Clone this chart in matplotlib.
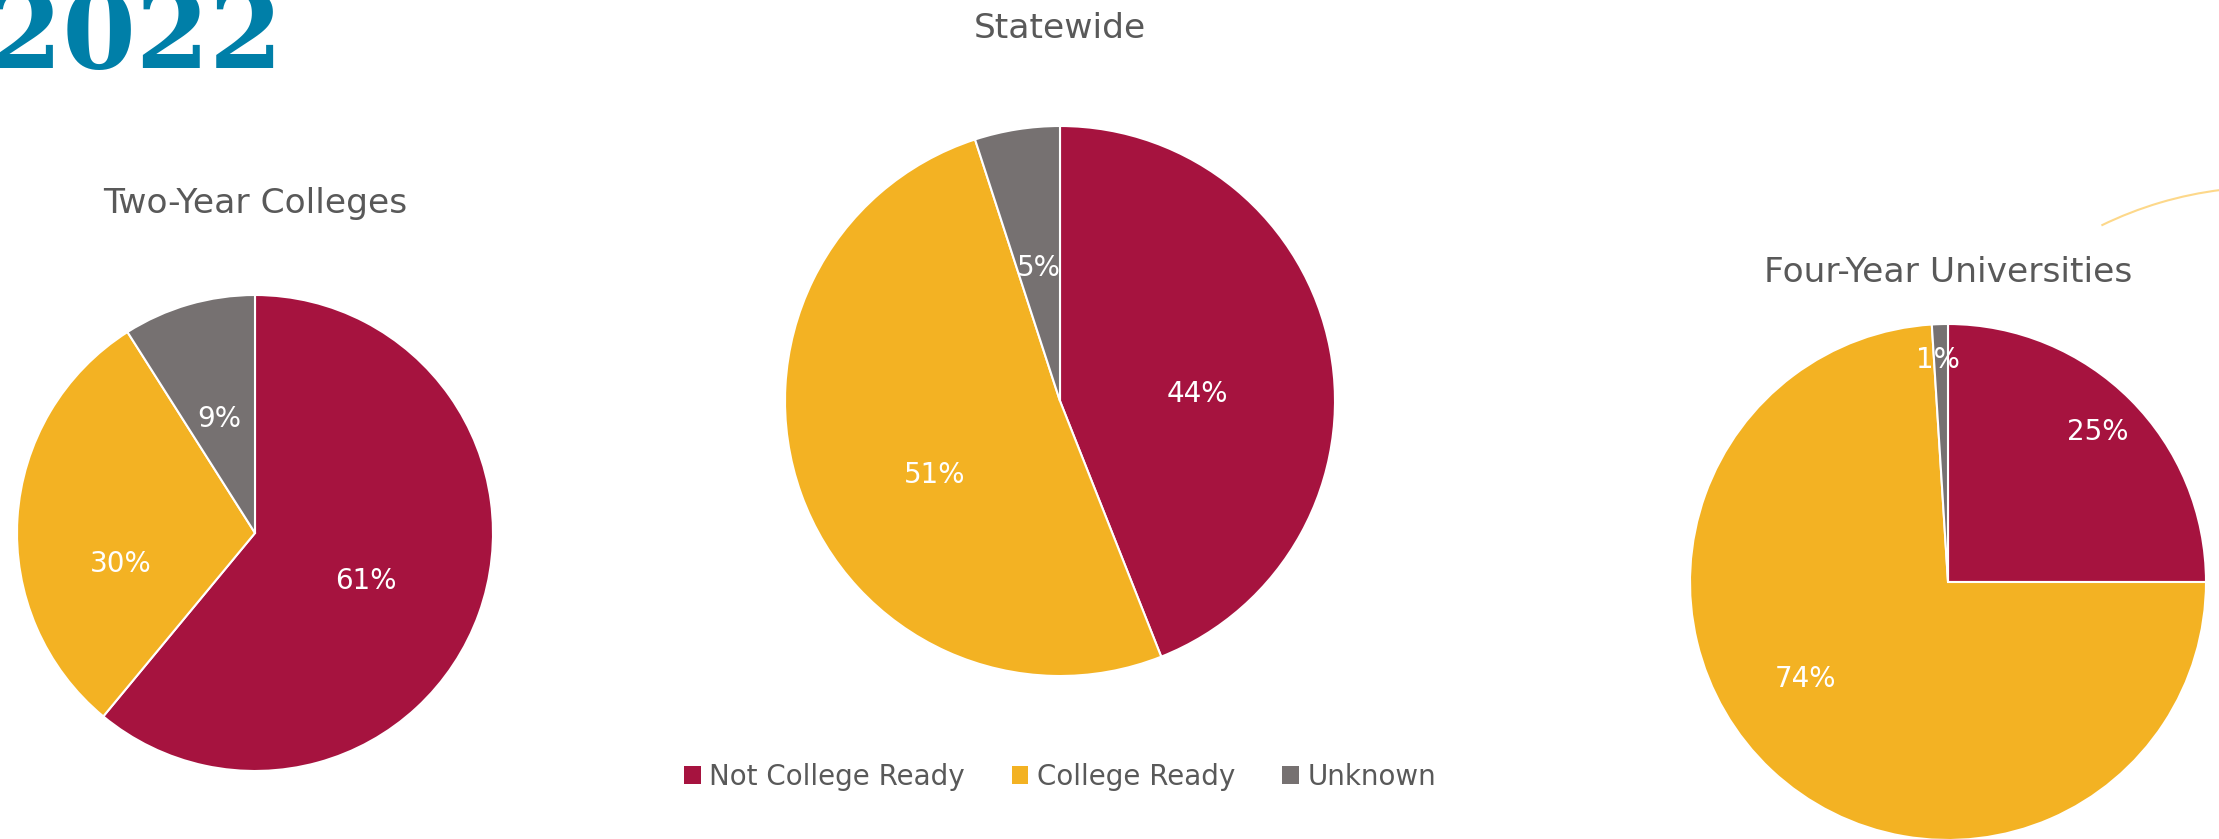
import numpy as np
import matplotlib
matplotlib.use("Agg")
import matplotlib.pyplot as plt
from matplotlib.patches import Patch, Arc

# Дані
categories = ["Not College Ready", "College Ready", "Unknown"]
colors = ["#A6133F", "#F3B223", "#767171"]

two_year = [61, 30, 9]
statewide = [44, 51, 5]
four_year = [25, 74, 1]

titles = ["Two-Year Colleges", "Statewide", "Four-Year Universities"]
year_label = "2022"

W, H = 2219, 839
fig = plt.figure(figsize=(W / 100, H / 100), dpi=100)
fig.patch.set_facecolor("white")

plt.rcParams['font.family'] = ['DejaVu Sans']
text_gray = "#595959"


def px_axes(cx, cy, r):
    # квадратні осі по центру (cx, cy) в пікселях від верхнього лівого кута
    return fig.add_axes([(cx - r) / W, (H - cy - r) / H, 2 * r / W, 2 * r / H])


# фонова декоративна дуга
bg = fig.add_axes([0, 0, 1, 1], zorder=0)
bg.set_xlim(0, W)
bg.set_ylim(0, H)
bg.axis("off")
bg.add_patch(Arc((2268, H - 567), 760, 760, theta1=97, theta2=116,
                 color="#FDD88A", lw=1.5))

# великий рік у кутку
fig.text(283 / W, 1 - 68 / H, year_label, ha="right", va="baseline",
         fontsize=76, fontweight="bold", color="#007FA8", family="DejaVu Serif")

# (дані, центр і радіус у px, позиція заголовка, відстані підписів, зсув кута підписів)
charts = [
    (two_year, (255, 533, 238), (255, 203), [0.51, 0.58, 0.50], [-3.7, 16.7, 1.2]),
    (statewide, (1060, 401, 275), (1060, 28), [0.50, 0.53, 0.49], [-7.8, 10.8, 0.0]),
    (four_year, (1948, 582, 258), (1948, 272), [0.82, 0.67, 0.86], [0.0, -12.5, 0.7]),
]

for (vals, (cx, cy, r), (tx, ty), dists, shifts), title in zip(charts, titles):
    ax = px_axes(cx, cy, r)
    wedges, _ = ax.pie(vals, colors=colors, startangle=90, counterclock=False,
                       wedgeprops=dict(edgecolor="white", linewidth=1.5))
    ax.set_xlim(-1, 1)
    ax.set_ylim(-1, 1)
    ax.set_aspect("equal")
    ax.axis("off")
    for w, v, d, s in zip(wedges, vals, dists, shifts):
        ang = np.deg2rad((w.theta1 + w.theta2) / 2 + s)
        ax.text(d * np.cos(ang), d * np.sin(ang), f"{v}%", ha="center", va="center",
                color="white", fontsize=20)
    fig.text(tx / W, 1 - ty / H, title, ha="center", va="center",
             fontsize=24.8, color=text_gray)

handles = [Patch(facecolor=c, edgecolor="none") for c in colors]
fig.legend(handles, categories, loc="center", bbox_to_anchor=(1060 / W, 1 - 777 / H),
           ncol=3, frameon=False, fontsize=20, handlelength=0.6, handleheight=0.6,
           handletextpad=0.3, columnspacing=1.7, labelcolor=text_gray)

fig.savefig("out.png", dpi=100, facecolor="white")
